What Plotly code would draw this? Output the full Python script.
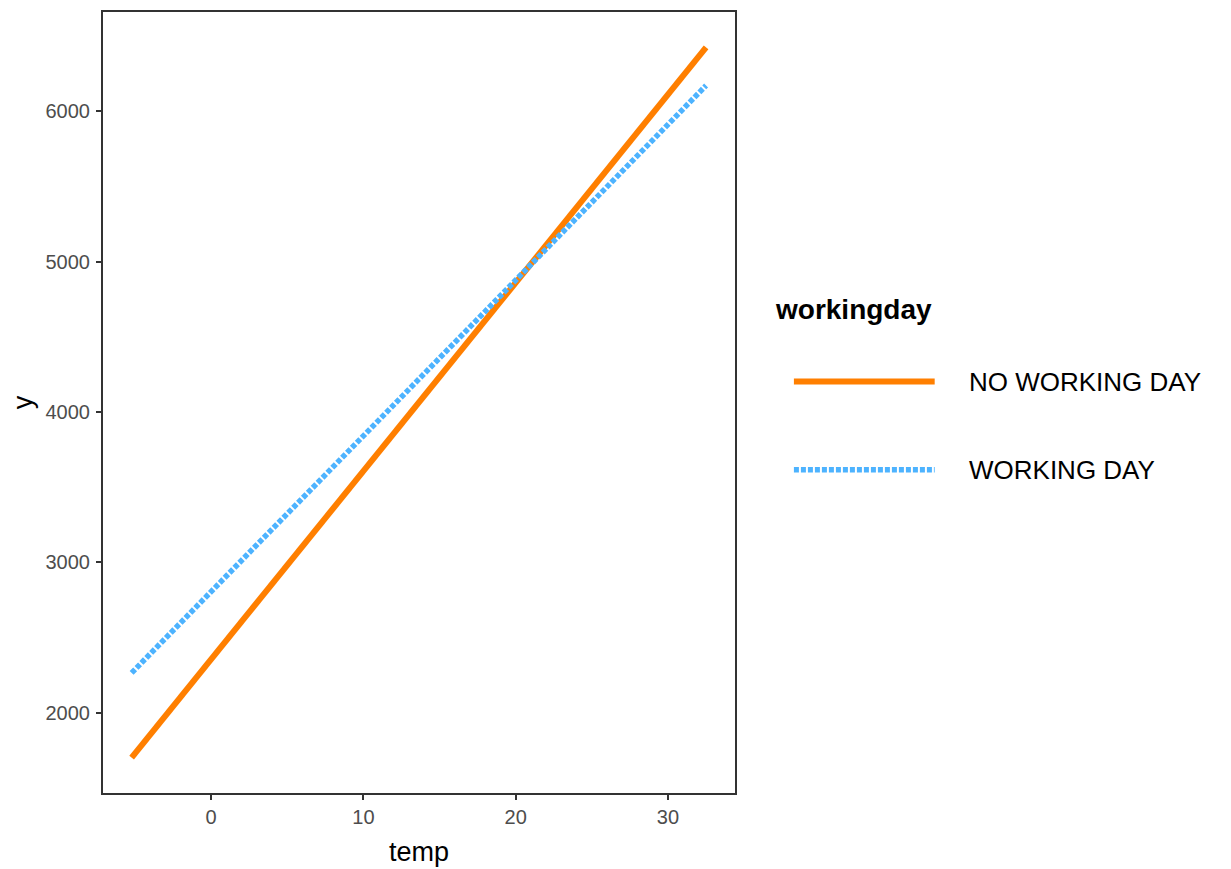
import plotly.graph_objects as go

temp = [-5.22, 32.5]
no_working_day = [1702, 6425]
working_day = [2265, 6172]

series_names = ["NO WORKING DAY", "WORKING DAY"]
series_colors = ["#FF7F00", "#4DB3FF"]
x_ticks = [0, 10, 20, 30]
y_ticks = [2000, 3000, 4000, 5000, 6000]

fig = go.Figure()
fig.add_trace(go.Scatter(x=temp, y=no_working_day, mode="lines", name=series_names[0],
                         line=dict(color=series_colors[0], width=6), showlegend=False))
fig.add_trace(go.Scatter(x=temp, y=working_day, mode="lines", name=series_names[1],
                         line=dict(color=series_colors[1], width=5.5, dash="5px,2px"), showlegend=False))

FONT = "Liberation Sans, Arial, sans-serif"
axis_common = dict(showgrid=False, zeroline=False, showline=True, mirror=True,
                   linecolor="#333333", linewidth=2, ticks="outside", ticklen=5,
                   tickcolor="#333333", tickwidth=2,
                   tickfont=dict(family=FONT, size=20, color="#4d4d4d"))

# page body has an 8px margin; figure is sized so the plot area lands where the reference has it
fig.update_layout(
    width=1223, height=861,
    margin=dict(l=94, r=496, t=2, b=76),
    paper_bgcolor="white", plot_bgcolor="white",
    xaxis=dict(range=[-7.1, 34.4], tickvals=x_ticks,
               title=dict(text="temp", font=dict(family=FONT, size=27, color="black"), standoff=15),
               **axis_common),
    yaxis=dict(range=[1466, 6661], tickvals=y_ticks, ticklabelstandoff=2,
               title=dict(text="y", font=dict(family=FONT, size=27, color="black"), standoff=17),
               **axis_common),
)

pw, ph = 633.0, 783.0
def px(x): return (x - 102) / pw
def py(y): return (793 - y) / ph

# manual legend (ggplot-style long keys)
fig.add_annotation(xref="paper", yref="paper", x=px(773), y=py(308), text="<b>workingday</b>",
                   showarrow=False, xanchor="left", yanchor="middle",
                   font=dict(family=FONT, size=28, color="black"))
legend_rows = [380.5, 469]
for name, color, yy, dash in zip(series_names, series_colors, legend_rows, ["solid", "5px,2px"]):
    fig.add_shape(type="line", xref="paper", yref="paper", x0=px(794), x1=px(935), y0=py(yy), y1=py(yy),
                  line=dict(color=color, width=6 if dash == "solid" else 5.5, dash=dash))
    fig.add_annotation(xref="paper", yref="paper", x=px(967), y=py(yy), text=name,
                       showarrow=False, xanchor="left", yanchor="middle",
                       font=dict(family=FONT, size=26, color="black"))

fig.write_html("out.html")
